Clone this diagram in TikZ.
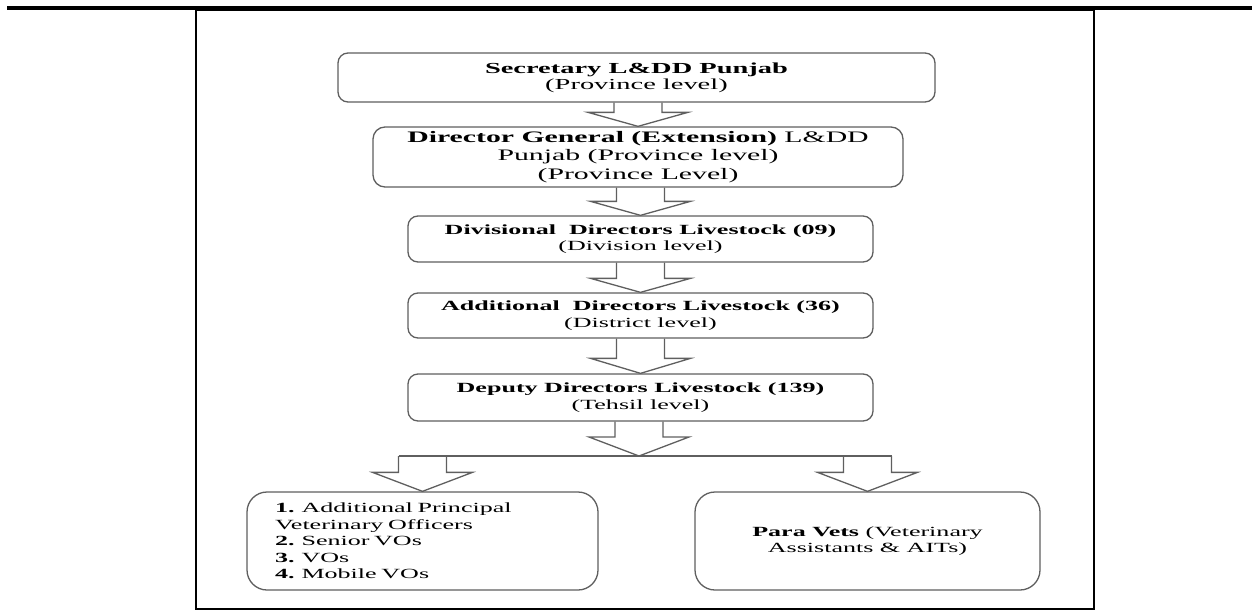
\documentclass[tikz,border=0pt]{standalone}
\usepackage{fontspec}
\setmainfont{Liberation Serif}[FakeStretch=1.86]
\usetikzlibrary{calc}
\definecolor{boxgray}{RGB}{95,95,95}
\tikzset{
  box/.style={draw=boxgray, line width=1.3pt, rounded corners=10pt, fill=white,
    align=center, inner sep=0pt, font=\fontsize{14}{16.5}\selectfont},
  barrowst/.style={draw=boxgray, line width=1.3pt, line join=miter},
  conn/.style={draw=boxgray, line width=1.3pt},
  frame/.style={draw=black, line width=2pt},
  rule/.style={draw=black, line width=4pt}
}
\newcommand\barrow[3]{%
  \draw[barrowst] ($(#2.north |- #1.south)+(-24,0)$) -- ($(#2.north)+(-24,-#3)$)
    -- ($(#2.north)+(-50,-#3)$) -- (#2.north) -- ($(#2.north)+(50,-#3)$)
    -- ($(#2.north)+(24,-#3)$) -- ($(#2.north |- #1.south)+(24,0)$);}
\begin{document}
\begin{tikzpicture}[x=1pt,y=-1pt]
\useasboundingbox (0,0) rectangle (1252,610);
\draw[rule] (7,8) -- (1252,8);
\draw[frame] (196,10) rectangle (1094,609);

\node[box, minimum width=597pt, minimum height=49pt, font=\fontsize{15.3}{16}\selectfont] (b1) at (636.5,77.5)
  {\textbf{Secretary L\&DD Punjab}\\(Province level)};
\node[box, minimum width=530pt, minimum height=60pt, rounded corners=12pt, font=\fontsize{16}{18.5}\selectfont] (b2) at (638,157)
  {\textbf{Director General (Extension)} L\&DD\\Punjab (Province level)\\(Province Level)};
\node[box, minimum width=465pt, minimum height=46pt] (b3) at (640.5,239)
  {\textbf{Divisional\ \ Directors Livestock (09)}\\(Division level)};
\node[box, minimum width=465pt, minimum height=45pt] (b4) at (640.5,315.5)
  {\textbf{Additional\ \ Directors Livestock (36)}\\(District level)};
\node[box, minimum width=465pt, minimum height=47pt] (b5) at (640.5,397.5)
  {\textbf{Deputy Directors Livestock (139)}\\(Tehsil level)};
\node[box, minimum width=351pt, minimum height=98pt, rounded corners=20pt,
  align=left, text width=295pt, inner xsep=28pt] (lb) at (422.5,541)
  {\textbf{1.} Additional Principal\\Veterinary Officers\\\textbf{2.} Senior VOs\\\textbf{3.} VOs\\\textbf{4.} Mobile VOs};
\node[box, minimum width=345pt, minimum height=98pt, rounded corners=20pt] (rb) at (867.5,541)
  {\textbf{Para Vets} (Veterinary\\Assistants \& AITs)};

\coordinate (j) at (639,456);
\barrow{b1}{b2}{14}
\barrow{b2}{b3}{14}
\barrow{b3}{b4}{14}
\barrow{b4}{b5}{15}
\barrow{b5}{j}{19}
\draw[conn] ($(lb.north |- j)+(-24,0)$) -- ($(rb.north |- j)+(24,0)$);
\barrow{j}{lb}{19}
\barrow{j}{rb}{19}
\end{tikzpicture}
\end{document}
